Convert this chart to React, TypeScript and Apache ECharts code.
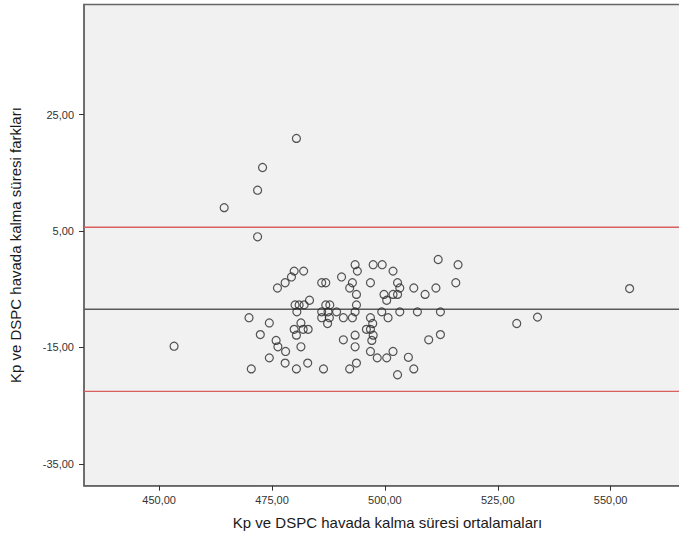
import React, { useEffect, useRef } from "react";
import * as echarts from "echarts";

// Bland-Altman data: mean of the two methods (x) and their difference (y)
const meanValues: number[] = [
  480.4, 472.9, 471.8, 464.4, 471.8, 453.3, 554.2, 529.2, 533.8, 469.9,
  474.4, 472.4, 475.9, 476.3, 474.4, 470.4, 476.2, 477.9, 479.3, 479.9,
  482.0, 486.0, 486.9, 490.4, 483.3, 480.1, 481.0, 482.1, 480.5, 486.9,
  487.8, 486.0, 487.4, 489.3, 486.0, 487.7, 490.8, 487.3, 481.4, 479.9,
  481.9, 483.0, 480.4, 481.4, 490.8, 478.0, 477.9, 480.4, 482.9, 486.4,
  493.4, 493.9, 497.4, 499.4, 501.8, 492.8, 496.8, 502.8, 492.2, 503.3,
  493.7, 499.8, 501.8, 502.8, 500.4, 493.7, 493.4, 499.3, 503.3, 492.8,
  496.8, 500.7, 497.3, 495.9, 496.8, 497.4, 493.4, 497.1, 493.4, 496.8,
  498.3, 500.4, 501.8, 505.2, 492.2, 493.7, 502.8, 511.8, 516.2, 515.7,
  506.4, 508.9, 511.3, 507.2, 512.3, 512.3, 509.7, 506.4,
];
const diffValues: number[] = [
  20.9, 15.9, 12.0, 9.0, 4.0, -14.8, -4.9, -10.9, -9.8, -9.9,
  -10.8, -12.8, -13.8, -14.9, -16.8, -18.7, -4.8, -3.9, -2.9, -1.9,
  -1.9, -3.9, -3.9, -2.9, -6.9, -7.7, -7.7, -7.7, -8.9, -7.7,
  -7.7, -8.9, -8.9, -8.9, -9.9, -9.9, -9.9, -10.9, -10.8, -11.9,
  -11.9, -11.9, -12.9, -14.9, -13.7, -15.7, -17.7, -18.7, -17.7, -18.7,
  -0.8, -1.9, -0.8, -0.8, -1.9, -3.9, -3.9, -3.9, -4.8, -4.8,
  -5.9, -5.9, -5.9, -5.9, -6.9, -7.7, -8.9, -8.9, -8.9, -9.9,
  -9.9, -9.9, -10.9, -11.9, -11.9, -12.9, -12.9, -13.8, -14.9, -15.7,
  -16.8, -16.8, -15.7, -16.7, -18.7, -17.7, -19.7, 0.1, -0.8, -3.9,
  -4.8, -5.9, -4.8, -8.9, -8.9, -12.8, -13.7, -18.7,
];
const meanDiff = -8.45;
const upperLimit = 5.64;
const lowerLimit = -22.55;

const xMin = 433.35;
const xMax = 567.8;
const yMin = -38.76;
const yMax = 43.9;

const xTicks = [450, 475, 500, 525, 550];
const yTicks = [-35, -15, 5, 25];

const xTitle = "Kp ve DSPC havada kalma süresi ortalamaları";
const yTitle = "Kp ve DSPC havada kalma süresi farkları";

const fmt = (v: number) => v.toFixed(2).replace(".", ",");
const FONT = "'Liberation Sans', Arial, sans-serif";

const refLine = (value: number, color: string, width: number) => ({
  type: "line",
  data: [
    [xMin, value],
    [xMax, value],
  ],
  silent: true,
  showSymbol: false,
  symbol: "none",
  lineStyle: { color, width, type: "solid" },
  itemStyle: { color },
  z: 2,
});

export default function App() {
  const ref = useRef<HTMLDivElement>(null);
  useEffect(() => {
    if (!ref.current) return;
    const chart = echarts.init(ref.current, undefined, { renderer: "svg" });
    const points = meanValues.map((m, i) => [m, diffValues[i]]);
    chart.setOption({
      animation: false,
      backgroundColor: "#ffffff",
      grid: {
        left: 84,
        right: 9,
        top: 4.5,
        bottom: 56.3,
        show: true,
        backgroundColor: "#f1f1f1",
        borderColor: "#666666",
        borderWidth: 1.5,
      },
      xAxis: {
        type: "value",
        min: xMin,
        max: xMax,
        name: xTitle,
        nameLocation: "middle",
        nameGap: 29,
        nameTextStyle: { fontFamily: FONT, fontSize: 15, color: "#1a1a1a" },
        axisLine: { show: true, onZero: false, lineStyle: { color: "#666", width: 1.5 } },
        splitLine: { show: false },
        axisTick: {
          show: true,
          inside: false,
          length: 5,
          customValues: xTicks,
          lineStyle: { color: "#333", width: 1 },
        },
        axisLabel: {
          customValues: xTicks,
          formatter: (v: number) => fmt(v),
          fontFamily: FONT,
          fontSize: 11,
          color: "#333",
          margin: 9,
        },
      },
      yAxis: {
        type: "value",
        min: yMin,
        max: yMax,
        name: yTitle,
        nameLocation: "middle",
        nameGap: 61,
        nameTextStyle: { fontFamily: FONT, fontSize: 15, color: "#1a1a1a" },
        axisLine: { show: true, onZero: false, lineStyle: { color: "#666", width: 1.5 } },
        splitLine: { show: false },
        axisTick: {
          show: true,
          inside: false,
          length: 5,
          customValues: yTicks,
          lineStyle: { color: "#333", width: 1 },
        },
        axisLabel: {
          customValues: yTicks,
          formatter: (v: number) => fmt(v),
          fontFamily: FONT,
          fontSize: 11,
          color: "#333",
          margin: 10,
        },
      },
      series: [
        refLine(upperLimit, "#d9605f", 1.3),
        refLine(lowerLimit, "#d9605f", 1.3),
        refLine(meanDiff, "#5a5a5a", 1.6),
        {
          type: "scatter",
          data: points,
          symbol: "circle",
          symbolSize: 8,
          itemStyle: {
            color: "rgba(0,0,0,0)",
            borderColor: "#2a2a2a",
            borderWidth: 1.2,
          },
          z: 3,
        },
      ],
    });
    return () => chart.dispose();
  }, []);
  return (
    <div
      style={{
        position: "absolute",
        left: 0,
        top: 0,
        width: 679,
        height: 542,
        overflow: "hidden",
      }}
    >
      <div ref={ref} style={{ width: 700, height: 542 }} />
    </div>
  );
}
